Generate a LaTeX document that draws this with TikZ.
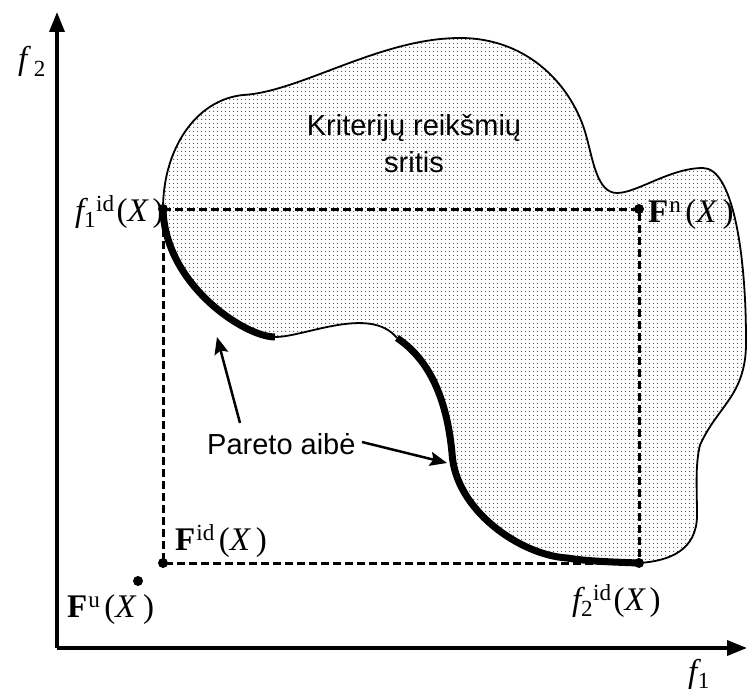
\documentclass[tikz,border=0pt]{standalone}
\usepackage{fontspec}
\setmainfont{Liberation Serif}
\newfontfamily\arialf{Liberation Sans}
\usetikzlibrary{arrows.meta,patterns}
\pgfdeclarepatternformonly{finedots}{\pgfqpoint{0pt}{0pt}}{\pgfqpoint{4pt}{4pt}}{\pgfqpoint{4pt}{4pt}}{\pgfpathrectangle{\pgfqpoint{1.5pt}{1.5pt}}{\pgfqpoint{1pt}{1pt}}\pgfusepath{fill}}
\begin{document}
\begin{tikzpicture}[x=1pt,y=-1pt,
  axisline/.style={line width=3.5pt,-{Triangle[length=20pt,width=15pt]}},
  outline/.style={line width=1.8pt},
  paretoline/.style={line width=7pt},
  dashbox/.style={line width=3pt,dash pattern=on 8pt off 4pt},
  ptdot/.style={circle,fill=black,inner sep=0pt,minimum size=10pt},
  lbl/.style={font=\fontsize{33}{33}\selectfont,inner sep=0pt,anchor=base west},
  sanslbl/.style={font=\arialf\fontsize{29}{34}\selectfont,inner sep=0pt,anchor=base},
  pointer/.style={line width=2.5pt,-{Stealth[length=17pt,width=14pt,inset=3pt]}}]
\useasboundingbox (0,0) rectangle (747,693);
% key points of the region outline
\coordinate (A) at (163,209);
\coordinate (B) at (243,95);
\coordinate (C) at (460,38);
\coordinate (D1) at (586,135);
\coordinate (D) at (617,193);
\coordinate (E) at (703,168);
\coordinate (F) at (746,340);
\coordinate (G) at (700,445);
\coordinate (H) at (697,515);
\coordinate (I) at (639,563);
\coordinate (J) at (567,558);
\coordinate (L) at (452,453);
\coordinate (N) at (397,338);
\coordinate (P) at (275,337);
% region
\path[pattern=finedots,pattern color=black!60]
  (A) .. controls (163,150) and (195,100) .. (B)
      .. controls (300,92) and (380,38) .. (C)
      .. controls (530,38) and (573,88) .. (D1)
      .. controls (593,160) and (597,193) .. (D)
      .. controls (637,193) and (670,168) .. (E)
      .. controls (732,168) and (746,250) .. (F)
      .. controls (747,395) and (718,405) .. (G)
      .. controls (695,465) and (697,490) .. (H)
      .. controls (697,550) and (670,561) .. (I)
      .. controls (610,562) and (585,561) .. (J)
      .. controls (520,555) and (455,510) .. (L)
      .. controls (447,400) and (430,360) .. (N)
      .. controls (370,305) and (305,337) .. (P)
      .. controls (245,337) and (165,285) .. (A) -- cycle;
\draw[outline]
  (A) .. controls (163,150) and (195,100) .. (B)
      .. controls (300,92) and (380,38) .. (C)
      .. controls (530,38) and (573,88) .. (D1)
      .. controls (593,160) and (597,193) .. (D)
      .. controls (637,193) and (670,168) .. (E)
      .. controls (732,168) and (746,250) .. (F)
      .. controls (747,395) and (718,405) .. (G)
      .. controls (695,465) and (697,490) .. (H)
      .. controls (697,550) and (670,561) .. (I)
      (N) .. controls (370,305) and (305,337) .. (P);
% Pareto set (bold parts)
\draw[paretoline] (P) .. controls (245,337) and (165,285) .. (A);
\draw[paretoline] (N) .. controls (430,360) and (447,400) .. (L)
      .. controls (455,510) and (520,555) .. (J)
      .. controls (585,561) and (610,562) .. (I);
% axes
\coordinate (O) at (57,648);
\coordinate (Ytop) at (57,12);
\coordinate (Xend) at (747,648);
\draw[axisline] (O) -- (Ytop);
\draw[axisline] (O) -- (Xend);
% dashed box
\node[ptdot] (f1id) at (163,209) {};
\node[ptdot] (Fn) at (639,209) {};
\node[ptdot] (Fid) at (163,563) {};
\node[ptdot] (f2id) at (639,563) {};
\node[ptdot] (Fu) at (138,581) {};
\draw[dashbox] (f1id.center) -- (Fn.center) -- (f2id.center) -- (Fid.center) -- cycle;
% labels
\node[lbl] (lf2) at (18,70) {\textit{f}\kern0.08em\textsubscript{2}};
\node[lbl] (lf1) at (688,682) {\textit{f}\kern-0.1em\textsubscript{1}};
\node[lbl] (lf1id) at (75,221) {\textit{f}\rlap{\kern-0.12em\textsubscript{1}}\kern0.24em\textsuperscript{id}\kern0.06em(\textit{X}\kern0.12em)};
\node[lbl] (lf2id) at (572,610) {\textit{f}\rlap{\kern-0.12em\textsubscript{2}}\kern0.24em\textsuperscript{id}\kern0.06em(\textit{X}\kern0.12em)};
\node[lbl] (lFn) at (648,222) {\textbf{F}\kern0.03em\textsuperscript{n}\kern0.12em(\textit{X}\kern0.15em)};
\node[lbl] (lFid) at (175,550) {\textbf{F}\kern0.03em\textsuperscript{id}\kern0.12em(\textit{X}\kern0.15em)};
\node[lbl] (lFu) at (67,617) {\textbf{F}\kern0.03em\textsuperscript{u}\kern0.12em(\textit{X}\kern0.2em)};
\node[sanslbl] (reg1) at (414,135) {Kriterijų reikšmių};
\node[sanslbl] (reg2) at (414,172) {sritis};
\node[sanslbl,anchor=base west] (par) at (207,454) {Pareto aibė};
% pointers
\coordinate (t1) at (240,423);
\coordinate (h1) at (217,337);
\coordinate (t2) at (362,442);
\coordinate (h2) at (447,463);
\draw[pointer] (t1) -- (h1);
\draw[pointer] (t2) -- (h2);
\end{tikzpicture}
\end{document}
